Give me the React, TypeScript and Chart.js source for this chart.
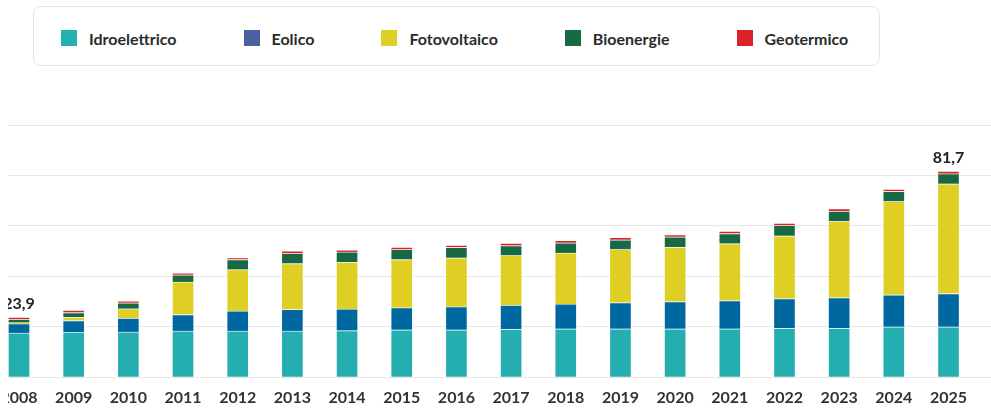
import React, { useEffect, useRef } from 'react';
import { Chart, registerables } from 'chart.js';

Chart.register(...registerables);

// ---- Data (GW) ----
const years = [2008, 2009, 2010, 2011, 2012, 2013, 2014, 2015, 2016, 2017, 2018, 2019, 2020, 2021, 2022, 2023, 2024, 2025];
const idroelettrico = [17.6, 17.9, 18.0, 18.4, 18.4, 18.4, 18.5, 18.8, 18.8, 19.0, 19.2, 19.2, 19.2, 19.2, 19.4, 19.4, 20.0, 20.0];
const eolico = [3.7, 4.6, 5.5, 6.5, 7.9, 8.5, 8.6, 8.8, 9.2, 9.6, 9.9, 10.4, 10.8, 11.2, 11.8, 12.2, 12.7, 13.2];
const fotovoltaico = [0.4, 1.3, 3.7, 12.9, 16.4, 18.2, 18.5, 19.1, 19.4, 19.7, 20.2, 21.1, 21.6, 22.6, 24.9, 30.3, 37.0, 43.5];
const bioenergie = [1.4, 1.9, 2.3, 2.8, 4.0, 4.0, 4.1, 4.0, 4.1, 3.9, 4.0, 3.8, 4.1, 4.0, 4.1, 4.0, 4.0, 4.0];
const geotermico = [0.8, 0.9, 0.8, 0.8, 0.7, 1.0, 0.8, 0.9, 0.9, 1.0, 1.0, 1.0, 0.9, 1.0, 0.9, 1.0, 0.9, 1.0];

const seriesNames = ['Idroelettrico', 'Eolico', 'Fotovoltaico', 'Bioenergie', 'Geotermico'];
const seriesValues = [idroelettrico, eolico, fotovoltaico, bioenergie, geotermico];
const barColors = ['#25aeb0', '#0068a1', '#dfce24', '#176843', '#da2229'];
const legendColors = ['#25afb0', '#4a60a1', '#dfcf22', '#186a45', '#db232a'];
const labeledIndices = [0, years.length - 1];

const yTicks = { min: 0, max: 100, step: 20 };
const xRange = { min: 2007.799, max: 2025.777 };

const FONT = 'Lato, "Noto Sans", sans-serif';

const formatIt = (v: number) => v.toFixed(1).replace('.', ',');

const totalsPlugin = {
  id: 'totals',
  afterDatasetsDraw(chart: any) {
    const ctx = chart.ctx;
    const lastMeta = chart.getDatasetMeta(chart.data.datasets.length - 1);
    labeledIndices.forEach((i) => {
      const el = lastMeta.data[i];
      if (!el) return;
      const total = seriesValues.reduce((s, arr) => s + arr[i], 0);
      ctx.save();
      ctx.font = `bold 16px ${FONT}`;
      ctx.fillStyle = '#222222';
      ctx.textAlign = 'center';
      ctx.textBaseline = 'alphabetic';
      ctx.fillText(formatIt(total), el.x, el.y - 8);
      ctx.restore();
    });
  },
};

function ChartCanvas() {
  const ref = useRef<HTMLCanvasElement | null>(null);
  useEffect(() => {
    if (!ref.current) return;
    const chart = new Chart(ref.current, {
      type: 'bar',
      data: {
        labels: years,
        datasets: seriesNames.map((name, k) => ({
          label: name,
          data: seriesValues[k],
          backgroundColor: barColors[k],
          borderColor: 'rgba(255,255,255,0.35)',
          borderWidth: 1,
          barThickness: 22,
          stack: 'total',
        })),
      },
      options: {
        animation: false,
        responsive: true,
        maintainAspectRatio: false,
        layout: { padding: { top: 45, bottom: 0.5, left: 0, right: 0 } },
        plugins: {
          legend: { display: false },
          tooltip: { enabled: false },
        },
        scales: {
          x: {
            type: 'linear',
            min: xRange.min,
            max: xRange.max,
            offset: false,
            grid: { display: false, drawTicks: false },
            border: { display: false },
            ticks: {
              stepSize: 1,
              includeBounds: false,
              autoSkip: false,
              maxRotation: 0,
              padding: 11,
              color: '#333333',
              font: { family: FONT, size: 16, weight: 'bold' },
              callback: (v: any) => String(v),
            },
            afterFit: (scale: any) => {
              scale.paddingLeft = 0;
              scale.paddingRight = 0;
            },
          },
          y: {
            stacked: true,
            min: yTicks.min,
            max: yTicks.max,
            ticks: { display: false, stepSize: yTicks.step },
            grid: { color: '#e8e8e8', lineWidth: 1, drawTicks: false },
            border: { display: false },
          },
        },
      } as any,
      plugins: [totalsPlugin],
    });
    return () => chart.destroy();
  }, []);
  return <canvas ref={ref} />;
}

export default function App() {
  return (
    <div style={{ position: 'fixed', left: 0, top: 0, width: 991, height: 410, background: '#fff', overflow: 'hidden' }}>
      <div
        style={{
          position: 'absolute',
          left: 33,
          top: 6,
          width: 847,
          height: 60,
          boxSizing: 'border-box',
          border: '1px solid #e6e6e6',
          borderRadius: 8,
          display: 'flex',
          alignItems: 'center',
          paddingLeft: 27,
          paddingTop: 4,
          gap: 67,
          fontFamily: FONT,
          fontWeight: 700,
          fontSize: 16,
          color: '#2b2b2b',
        }}
      >
        {seriesNames.map((name, k) => (
          <div key={name} style={{ display: 'flex', alignItems: 'center' }}>
            <span style={{ width: 16, height: 16, background: legendColors[k], display: 'inline-block', marginRight: 12 }} />
            <span>{name}</span>
          </div>
        ))}
      </div>
      <div style={{ position: 'absolute', left: 8, top: 80, width: 983, height: 339 }}>
        <ChartCanvas />
      </div>
    </div>
  );
}
